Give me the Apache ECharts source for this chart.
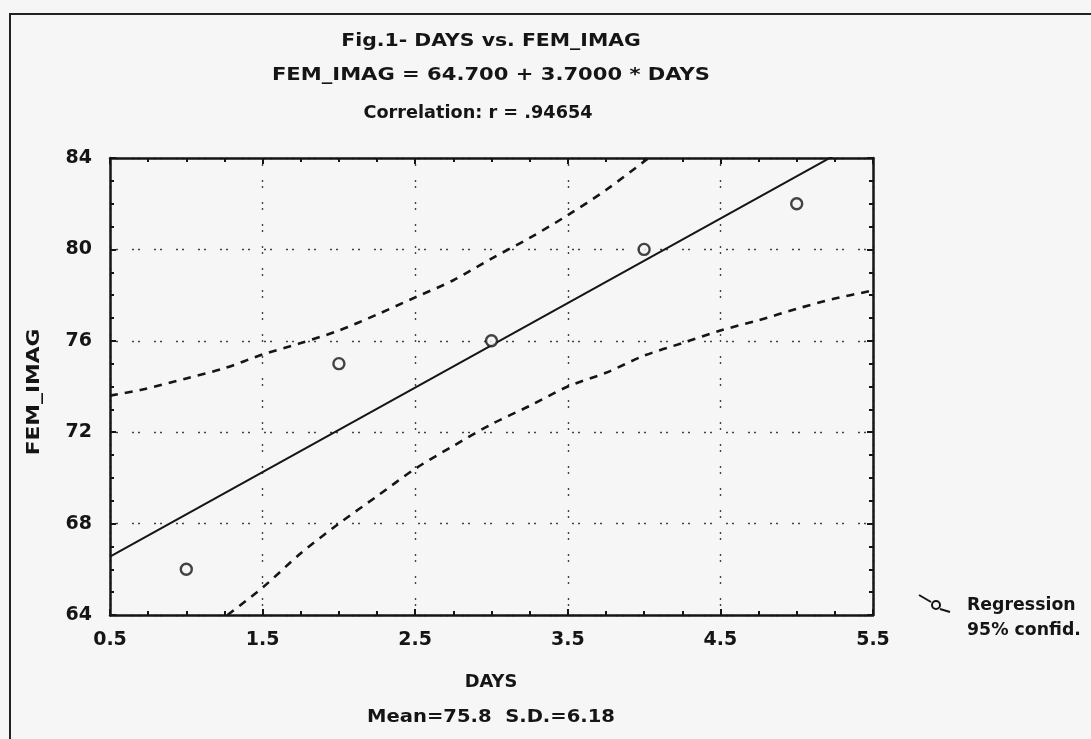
<!DOCTYPE html>
<html>
<head>
<meta charset="utf-8">
<script src="https://cdn.jsdelivr.net/npm/echarts@6/dist/echarts.min.js"></script>
<style>
  html, body { margin: 0; padding: 0; background: #f6f6f6; }
  #chart { width: 1091px; height: 739px; }
</style>
</head>
<body>
<div id="chart"></div>
<script>
// observed points
const days = [1, 2, 3, 4, 5];
const femImag = [66, 75, 76, 80, 82];

// regression line ends (FEM_IMAG = 64.7 + 3.7 * DAYS)
const regX = [0.5, 5.5];
const regY = [66.55, 85.05];

// 95% confidence band
const upperX = [0.5, 0.7, 1.0, 1.25, 1.5, 1.75, 2.0, 2.25, 2.5, 2.75, 3.0, 3.25, 3.5, 3.75, 4.0, 4.1];
const upperY = [73.6, 73.85, 74.35, 74.8, 75.4, 75.9, 76.45, 77.15, 77.9, 78.65, 79.6, 80.5, 81.5, 82.6, 83.85, 84.4];
const lowerX = [1.27, 1.5, 1.75, 2.0, 2.25, 2.5, 2.75, 3.0, 3.25, 3.5, 3.75, 4.0, 4.25, 4.5, 4.75, 5.0, 5.25, 5.5];
const lowerY = [64.0, 65.2, 66.7, 68.0, 69.2, 70.4, 71.4, 72.35, 73.15, 74.0, 74.6, 75.35, 75.9, 76.45, 76.9, 77.4, 77.85, 78.2];

const titleLines = [
  'Fig.1- DAYS vs. FEM_IMAG',
  'FEM_IMAG = 64.700 + 3.7000 * DAYS',
  'Correlation: r = .94654'
];

const pairs = (xs, ys) => xs.map((x, i) => [x, ys[i]]);

const ink = '#151515';
const plotCenter = 491;
const txtFont = 'bold 17px "DejaVu Sans"';

// the scanned lettering is wider than any installed font, so stretch it a bit
const label = (text, x, y, sx, align, extra) => Object.assign({
  type: 'text', x: x, y: y, scaleX: sx, silent: true,
  style: { text: text, font: txtFont, fill: ink, textAlign: align || 'center', textVerticalAlign: 'middle' }
}, extra || {});

const dotted = { color: '#444', width: 1.4, type: [2, 4, 2, 14] };

const baseAxis = {
  axisLine: { show: true, onZero: false, lineStyle: { color: ink, width: 2.5 } },
  axisTick: { show: true, inside: true, length: 6, lineStyle: { color: ink, width: 2 } },
  minorTick: { show: true, splitNumber: 4, length: 4, lineStyle: { color: ink, width: 2 } },
  axisLabel: { show: false },
  splitLine: { show: false }
};

const tickLabel = { show: true, fontFamily: 'DejaVu Sans', fontWeight: 'bold', fontSize: 19, color: ink };

const option = {
  backgroundColor: '#f6f6f6',
  animation: false,
  grid: { left: 110, right: 218, top: 158, bottom: 124 },
  xAxis: [
    Object.assign({}, baseAxis, {
      type: 'value', min: 0.5, max: 5.5, interval: 1, position: 'bottom',
      axisLabel: Object.assign({}, tickLabel, { margin: 16, formatter: v => v.toFixed(1) }),
      splitLine: { show: true, lineStyle: dotted }
    }),
    Object.assign({}, baseAxis, {
      type: 'value', min: 0.5, max: 5.5, interval: 1, position: 'top'
    })
  ],
  yAxis: [
    Object.assign({}, baseAxis, {
      type: 'value', min: 64, max: 84, interval: 4, position: 'left',
      axisLabel: Object.assign({}, tickLabel, { margin: 18 }),
      splitLine: { show: true, lineStyle: dotted }
    }),
    Object.assign({}, baseAxis, {
      type: 'value', min: 64, max: 84, interval: 4, position: 'right'
    })
  ],
  series: [
    {
      name: 'Regression', type: 'line', data: pairs(regX, regY),
      symbol: 'none', clip: true,
      lineStyle: { color: ink, width: 2 }
    },
    {
      name: 'upper', type: 'line', data: pairs(upperX, upperY),
      symbol: 'none', clip: true, smooth: 0.3,
      lineStyle: { color: ink, width: 2.6, type: [8, 7] }
    },
    {
      name: 'lower', type: 'line', data: pairs(lowerX, lowerY),
      symbol: 'none', clip: true, smooth: 0.3,
      lineStyle: { color: ink, width: 2.6, type: [8, 7] }
    },
    {
      name: 'points', type: 'scatter', data: pairs(days, femImag),
      symbol: 'circle', symbolSize: 11, z: 5,
      itemStyle: { color: '#f6f6f6', borderColor: ink, borderWidth: 2.4 }
    }
  ],
  graphic: [
    // outer frame of the figure
    { type: 'rect', shape: { x: 10, y: 14, width: 1200, height: 800 },
      style: { fill: 'none', stroke: '#222', lineWidth: 2 }, silent: true },
    label(titleLines[0], plotCenter, 42, 1.2),
    label(titleLines[1], plotCenter, 76, 1.24),
    label(titleLines[2], 478, 114, 1.04),
    label('FEM_IMAG', 35, 392, 1.28, 'center', { rotation: Math.PI / 2 }),
    label('DAYS', plotCenter, 683, 1.05),
    label('Mean=75.8  S.D.=6.18', plotCenter, 718, 1.15),
    // legend
    { type: 'polyline', shape: { points: [[919, 595], [931, 602]] },
      style: { stroke: ink, lineWidth: 2 } },
    { type: 'circle', shape: { cx: 936, cy: 605, r: 4 },
      style: { fill: 'none', stroke: ink, lineWidth: 2 } },
    { type: 'polyline', shape: { points: [[940, 609], [950, 612]] },
      style: { stroke: ink, lineWidth: 2 } },
    label('Regression', 967, 606, 1.02, 'left'),
    label('95% confid.', 967, 631, 1.02, 'left')
  ]
};

const chart = echarts.init(document.getElementById('chart'));
chart.setOption(option);
</script>
</body>
</html>
